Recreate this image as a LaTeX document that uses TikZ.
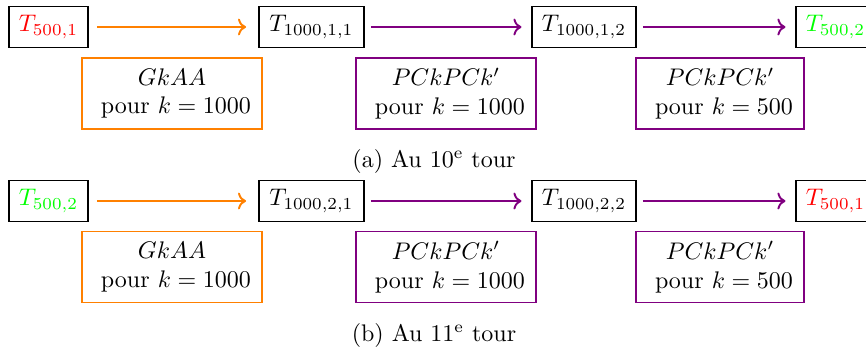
\documentclass[tikz,border=0pt]{standalone}
\usetikzlibrary{arrows.meta}
\begin{document}
\begin{tikzpicture}[x=0.41667pt,y=-0.41667pt,
  tbox/.style={draw,thick,inner sep=1pt,minimum height=17.1pt},
  pbox/.style={draw,thick,inner sep=1pt,align=center,minimum height=29.6pt},
  oarr/.style={->,thick,orange,shorten <=3.3pt,shorten >=5pt},
  varr/.style={->,thick,violet,shorten <=2.5pt,shorten >=4pt}]
\useasboundingbox (0,0) rectangle (866,349);
% row (a)
\node[tbox,minimum width=32.9pt] (a1) at (48.5,27) {$\color{red}T_{500,1}$};
\node[tbox,minimum width=43.75pt] (a2) at (311.5,27) {$T_{1000,1,1}$};
\node[tbox,minimum width=43.3pt] (a3) at (584,27) {$T_{1000,1,2}$};
\node[tbox,minimum width=32.9pt] (a4) at (835.5,27) {$\color{green}T_{500,2}$};
\draw[oarr] (a1) -- (a2);
\draw[varr] (a2) -- (a3);
\draw[varr] (a3) -- (a4);
\node[pbox,draw=orange,minimum width=75pt] (ap1) at (172,93.5) {$GkAA$\\\ pour $k=1000$};
\node[pbox,draw=violet,minimum width=75pt] (ap2) at (446,93.5) {$PCkPCk'$\\\ pour $k=1000$};
\node[pbox,draw=violet,minimum width=70pt] (ap3) at (720,93.5) {$PCkPCk'$\\\ pour $k=500$};
\node[anchor=base] (capa) at (434,167) {(a)\ Au 10\textsuperscript{e} tour};
% row (b)
\node[tbox,minimum width=32.9pt] (b1) at (48.5,201) {$\color{green}T_{500,2}$};
\node[tbox,minimum width=43.75pt] (b2) at (311.5,201) {$T_{1000,2,1}$};
\node[tbox,minimum width=43.3pt] (b3) at (584,201) {$T_{1000,2,2}$};
\node[tbox,minimum width=32.9pt] (b4) at (835.5,201) {$\color{red}T_{500,1}$};
\draw[oarr] (b1) -- (b2);
\draw[varr] (b2) -- (b3);
\draw[varr] (b3) -- (b4);
\node[pbox,draw=orange,minimum width=75pt] (bp1) at (172,267) {$GkAA$\\\ pour $k=1000$};
\node[pbox,draw=violet,minimum width=75pt] (bp2) at (446,267) {$PCkPCk'$\\\ pour $k=1000$};
\node[pbox,draw=violet,minimum width=70pt] (bp3) at (720,267) {$PCkPCk'$\\\ pour $k=500$};
\node[anchor=base] (capb) at (434,341) {(b)\ Au 11\textsuperscript{e} tour};
\end{tikzpicture}
\end{document}
